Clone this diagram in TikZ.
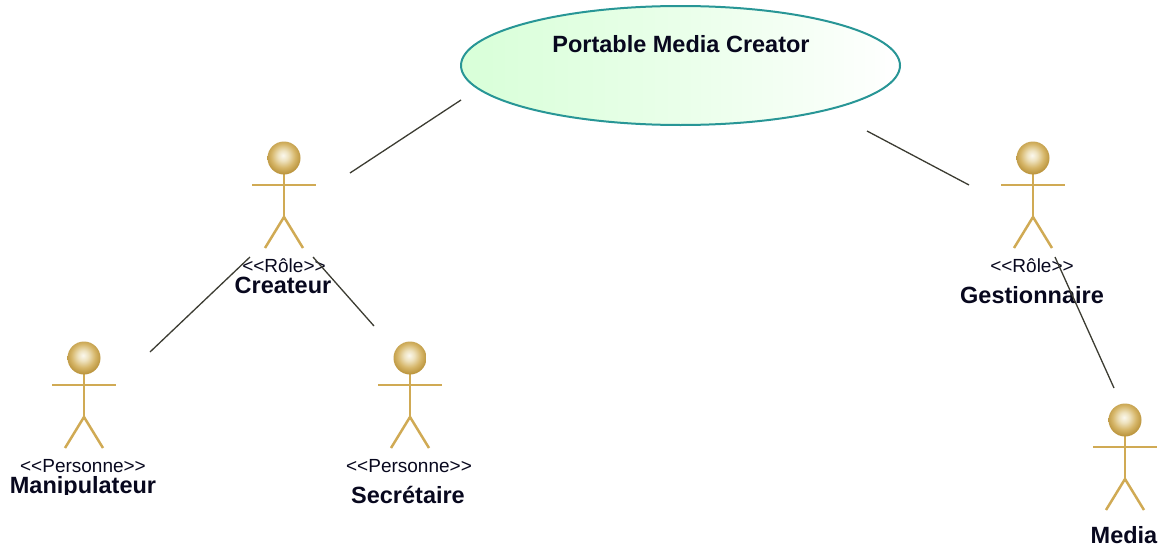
\documentclass[tikz,border=0pt]{standalone}
\usepackage{fontspec}
\setmainfont{Liberation Sans}[Ligatures=NoCommon]
\usetikzlibrary{shapes.geometric,shadings}
\definecolor{actorline}{RGB}{208,170,84}
\definecolor{ucborder}{RGB}{40,150,150}
\definecolor{ucfill}{RGB}{216,255,216}
\definecolor{textdark}{RGB}{8,8,30}
\definecolor{linkcol}{RGB}{60,60,50}
\definecolor{gbzero}{RGB}{251,248,238}
\definecolor{gbone}{RGB}{238,226,190}
\definecolor{gbtwo}{RGB}{214,182,105}
\definecolor{gbthree}{RGB}{180,140,50}
\definecolor{gbfour}{RGB}{170,130,40}
\pgfdeclareradialshading{goldball}{\pgfpoint{-1.5bp}{4bp}}{%
  color(0bp)=(gbzero);
  color(8bp)=(gbone);
  color(18bp)=(gbtwo);
  color(29bp)=(gbthree);
  color(100bp)=(gbfour)}
\tikzset{
  x=1pt,y=-1pt,
  limb/.style={draw=actorline,line width=2.5pt},
  headball/.style={circle,minimum size=33pt,inner sep=0pt,shading=goldball,draw=none},
  stereo/.style={anchor=base,inner sep=0pt,text=textdark,font=\fontsize{19}{19}\selectfont},
  aname/.style={anchor=base,inner sep=0pt,text=textdark,font=\fontsize{23.5}{24}\selectfont\bfseries},
  link/.style={draw=linkcol,line width=1.3pt},
  usecase/.style={ellipse,minimum width=439pt,minimum height=119pt,inner sep=0pt,draw=ucborder,line width=2pt,left color=ucfill,right color=white,middle color=ucfill!55!white}
}
\newcommand{\stickfig}[3]{%
  \coordinate (#1neck) at (#2,#3+16);
  \coordinate (#1hip) at (#2,#3+60);
  \coordinate (#1armL) at (#2-32,#3+28);
  \coordinate (#1armR) at (#2+32,#3+28);
  \coordinate (#1footL) at (#2-19,#3+91);
  \coordinate (#1footR) at (#2+19,#3+91);
  \draw[limb] (#1neck) -- (#1hip);
  \draw[limb] (#1armL) -- (#1armR);
  \draw[limb] (#1footL) -- (#1hip) -- (#1footR);
  \node[headball] (#1head) at (#2,#3+1) {};
}
\begin{document}
\begin{tikzpicture}
\useasboundingbox (0,0) rectangle (1160,549);
\node[usecase] (uc) at (680.5,65.5) {};
\node[aname] (uclabel) at (681,52) {Portable Media Creator};

\stickfig{cr}{284}{157}
\stickfig{ge}{1033}{157}
\stickfig{ma}{84}{357}
\stickfig{se}{410}{357}
\stickfig{me}{1125}{419}

\node[stereo] (crst) at (284,272) {{<}{<}Rôle{>}{>}};
\node[aname] (crname) at (283,293) {Createur};
\node[stereo] (gest) at (1032,272) {{<}{<}Rôle{>}{>}};
\node[aname] (gename) at (1032,303) {Gestionnaire};
\node[stereo] (mast) at (83,472) {{<}{<}Personne{>}{>}};
\begin{scope}
  \clip (0,460) rectangle (200,494);
  \node[aname] (maname) at (83,493) {Manipulateur};
\end{scope}
\node[stereo] (sest) at (409,472) {{<}{<}Personne{>}{>}};
\node[aname] (sename) at (408,503) {Secrétaire};
\node[aname] (mename) at (1124,543) {Media};

\coordinate (a1) at (350,173); \coordinate (a2) at (461,100);
\coordinate (b1) at (867,131); \coordinate (b2) at (969,185);
\coordinate (c1) at (150,352); \coordinate (c2) at (250,257);
\coordinate (d1) at (374,326); \coordinate (d2) at (313,257);
\coordinate (e1) at (1114,388); \coordinate (e2) at (1055,257);
\draw[link] (a1) -- (a2);
\draw[link] (b1) -- (b2);
\draw[link] (c1) -- (c2);
\draw[link] (d1) -- (d2);
\draw[link] (e1) -- (e2);
\end{tikzpicture}
\end{document}
